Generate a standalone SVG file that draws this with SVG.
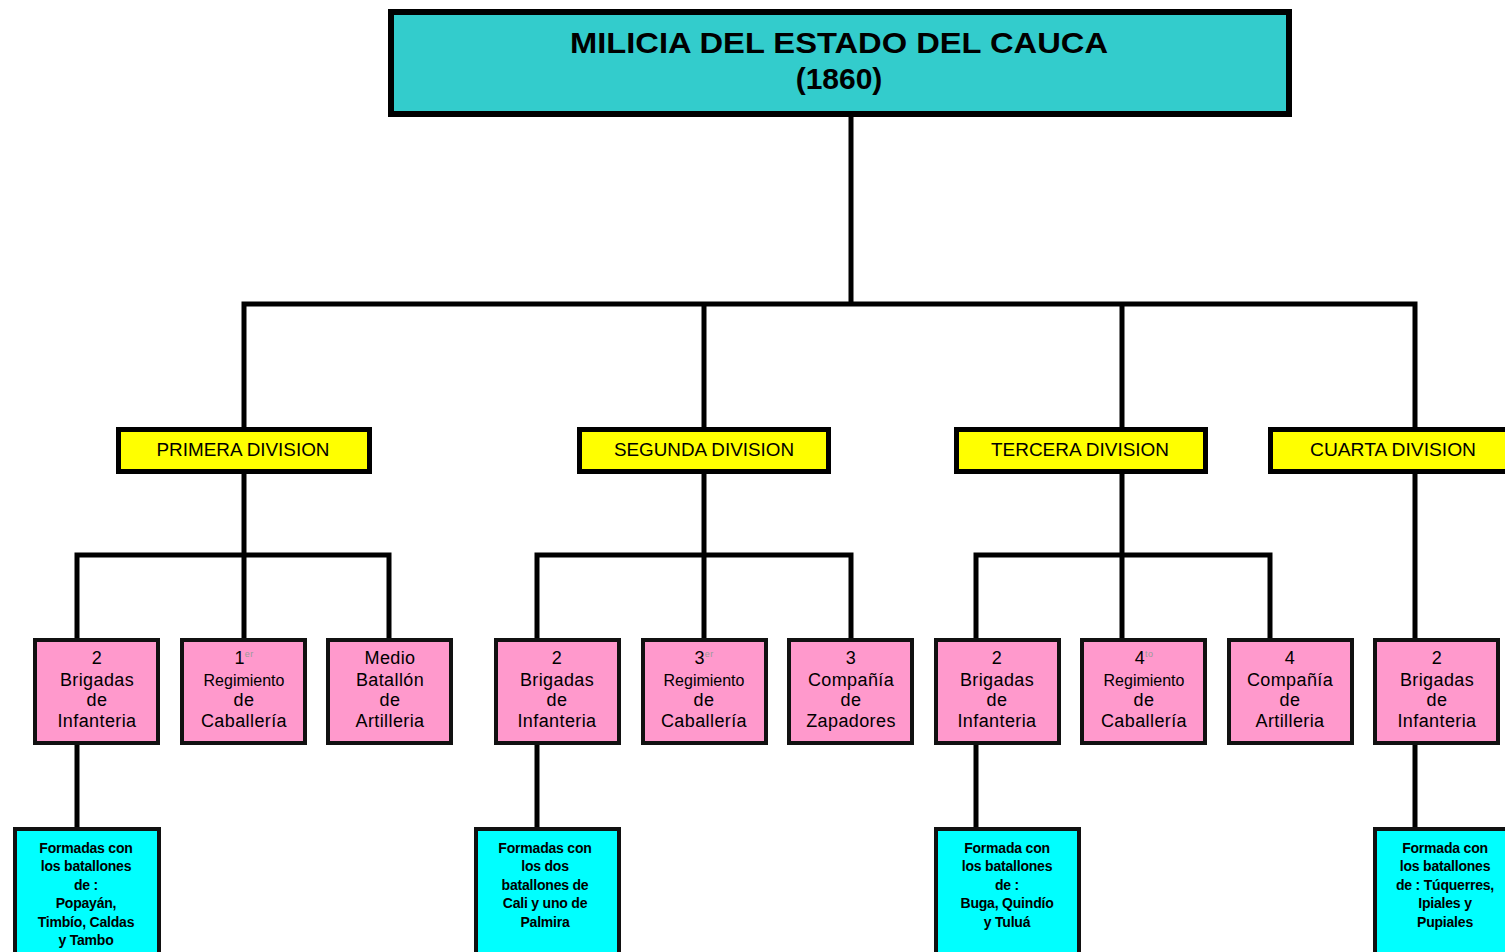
<svg xmlns="http://www.w3.org/2000/svg" width="1505" height="952" viewBox="0 0 1505 952">
<style>
.bg{fill:#ffffff}
.title{fill:#33CCCC;stroke:#000;stroke-width:6}
.div{fill:#FFFF00;stroke:#000;stroke-width:5}
.pink{fill:#FF99CC;stroke:#111;stroke-width:4}
.cyan{fill:#00FFFF;stroke:#111;stroke-width:4}
.conn{stroke:#000;stroke-width:5;fill:none;stroke-linecap:square}
text{font-family:"Liberation Sans",Arial,sans-serif;fill:#000;text-anchor:middle}
.tt{font-size:30px;font-weight:bold}
.dt{font-size:18px}
.pt{font-size:18px;letter-spacing:0.4px}
.rt{font-size:16px}
.sup{font-size:9px;fill:#999}
.ct{font-size:14px;font-weight:bold;letter-spacing:-0.2px}
</style>
<rect class="bg" x="0" y="0" width="1505" height="952"/>
<g id="connectors">
<path class="conn" d="M851,117 V304 M244,304 H1415 M244,304 V427 M704,304 V427 M1122,304 V427 M1415,304 V427"/>
<path class="conn" d="M244,474 V555 M77,555 H389 M77,555 V638 M244,555 V638 M389,555 V638"/>
<path class="conn" d="M704,474 V555 M537,555 H851 M537,555 V638 M704,555 V638 M851,555 V638"/>
<path class="conn" d="M1122,474 V555 M976,555 H1270 M976,555 V638 M1122,555 V638 M1270,555 V638"/>
<path class="conn" d="M1415,474 V638"/>
<path class="conn" d="M77,745 V827 M537,745 V827 M976,745 V827 M1415,745 V827"/>
</g>
<g id="root">
<rect class="title" x="391" y="12" width="898" height="102"/>
<text class="tt" x="839" y="53" textLength="538" lengthAdjust="spacingAndGlyphs">MILICIA DEL ESTADO DEL CAUCA</text>
<text class="tt" x="839" y="89">(1860)</text>
</g>
<g id="div1">
<rect class="div" x="118.500" y="429.500" width="251" height="42"/>
<text class="dt" x="243" y="456" textLength="173" lengthAdjust="spacingAndGlyphs">PRIMERA DIVISION</text>
</g>
<g id="div2">
<rect class="div" x="579.500" y="429.500" width="249" height="42"/>
<text class="dt" x="704" y="456" textLength="180" lengthAdjust="spacingAndGlyphs">SEGUNDA DIVISION</text>
</g>
<g id="div3">
<rect class="div" x="956.500" y="429.500" width="249" height="42"/>
<text class="dt" x="1080" y="456" textLength="178" lengthAdjust="spacingAndGlyphs">TERCERA DIVISION</text>
</g>
<g id="div4">
<rect class="div" x="1270.500" y="429.500" width="250" height="42"/>
<text class="dt" x="1393" y="456" textLength="166" lengthAdjust="spacingAndGlyphs">CUARTA DIVISION</text>
</g>
<g id="p1-brigadas">
<rect class="pink" x="35" y="640" width="123" height="103"/>
<text class="pt" x="97" y="664">2</text>
<text class="pt" x="97" y="686">Brigadas</text>
<text class="pt" x="97" y="706">de</text>
<text class="pt" x="97" y="727">Infanteria</text>
</g>
<g id="p1-regimiento">
<rect class="pink" x="182" y="640" width="123" height="103"/>
<text class="pt" x="244" y="664">1<tspan class="sup" dy="-7">er</tspan></text>
<text class="rt" x="244" y="686">Regimiento</text>
<text class="pt" x="244" y="706">de</text>
<text class="pt" x="244" y="727">Caballería</text>
</g>
<g id="p1-batallon">
<rect class="pink" x="328" y="640" width="123" height="103"/>
<text class="pt" x="390" y="664">Medio</text>
<text class="pt" x="390" y="686">Batallón</text>
<text class="pt" x="390" y="706">de</text>
<text class="pt" x="390" y="727">Artilleria</text>
</g>
<g id="p2-brigadas">
<rect class="pink" x="496" y="640" width="123" height="103"/>
<text class="pt" x="557" y="664">2</text>
<text class="pt" x="557" y="686">Brigadas</text>
<text class="pt" x="557" y="706">de</text>
<text class="pt" x="557" y="727">Infanteria</text>
</g>
<g id="p2-regimiento">
<rect class="pink" x="643" y="640" width="123" height="103"/>
<text class="pt" x="704" y="664">3<tspan class="sup" dy="-7">er</tspan></text>
<text class="rt" x="704" y="686">Regimiento</text>
<text class="pt" x="704" y="706">de</text>
<text class="pt" x="704" y="727">Caballería</text>
</g>
<g id="p2-zapadores">
<rect class="pink" x="789" y="640" width="123" height="103"/>
<text class="pt" x="851" y="664">3</text>
<text class="pt" x="851" y="686">Compañía</text>
<text class="pt" x="851" y="706">de</text>
<text class="pt" x="851" y="727">Zapadores</text>
</g>
<g id="p3-brigadas">
<rect class="pink" x="936" y="640" width="123" height="103"/>
<text class="pt" x="997" y="664">2</text>
<text class="pt" x="997" y="686">Brigadas</text>
<text class="pt" x="997" y="706">de</text>
<text class="pt" x="997" y="727">Infanteria</text>
</g>
<g id="p3-regimiento">
<rect class="pink" x="1082" y="640" width="123" height="103"/>
<text class="pt" x="1144" y="664">4<tspan class="sup" dy="-7">to</tspan></text>
<text class="rt" x="1144" y="686">Regimiento</text>
<text class="pt" x="1144" y="706">de</text>
<text class="pt" x="1144" y="727">Caballería</text>
</g>
<g id="p3-artilleria">
<rect class="pink" x="1229" y="640" width="123" height="103"/>
<text class="pt" x="1290" y="664">4</text>
<text class="pt" x="1290" y="686">Compañía</text>
<text class="pt" x="1290" y="706">de</text>
<text class="pt" x="1290" y="727">Artilleria</text>
</g>
<g id="p4-brigadas">
<rect class="pink" x="1375" y="640" width="123" height="103"/>
<text class="pt" x="1437" y="664">2</text>
<text class="pt" x="1437" y="686">Brigadas</text>
<text class="pt" x="1437" y="706">de</text>
<text class="pt" x="1437" y="727">Infanteria</text>
</g>
<g id="c1">
<rect class="cyan" x="15" y="829" width="144" height="140"/>
<text class="ct" x="86" y="853">Formadas con</text>
<text class="ct" x="86" y="871">los batallones</text>
<text class="ct" x="86" y="890">de :</text>
<text class="ct" x="86" y="908">Popayán,</text>
<text class="ct" x="86" y="927">Timbío, Caldas</text>
<text class="ct" x="86" y="945">y Tambo</text>
</g>
<g id="c2">
<rect class="cyan" x="476" y="829" width="143" height="140"/>
<text class="ct" x="545" y="853">Formadas con</text>
<text class="ct" x="545" y="871">los dos</text>
<text class="ct" x="545" y="890">batallones de</text>
<text class="ct" x="545" y="908">Cali y uno de</text>
<text class="ct" x="545" y="927">Palmira</text>
</g>
<g id="c3">
<rect class="cyan" x="936" y="829" width="143" height="140"/>
<text class="ct" x="1007" y="853">Formada con</text>
<text class="ct" x="1007" y="871">los batallones</text>
<text class="ct" x="1007" y="890">de :</text>
<text class="ct" x="1007" y="908">Buga, Quindío</text>
<text class="ct" x="1007" y="927">y Tuluá</text>
</g>
<g id="c4">
<rect class="cyan" x="1375" y="829" width="150" height="140"/>
<text class="ct" x="1445" y="853">Formada con</text>
<text class="ct" x="1445" y="871">los batallones</text>
<text class="ct" x="1445" y="890">de : Túquerres,</text>
<text class="ct" x="1445" y="908">Ipiales y</text>
<text class="ct" x="1445" y="927">Pupiales</text>
</g>
</svg>
